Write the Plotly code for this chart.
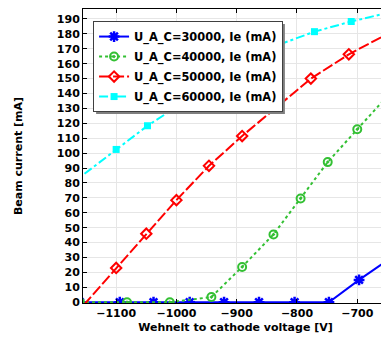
import plotly.graph_objects as go

# ---- data ----
names = ["U_A_C=30000, Ie (mA)", "U_A_C=40000, Ie (mA)",
         "U_A_C=50000, Ie (mA)", "U_A_C=60000, Ie (mA)"]

x_30k = [-1160, -1094, -1038, -978, -921, -863, -804, -747, -697, -645]
y_30k = [0, 0, 0, 0, 0, 0, 0, 0, 15, 29.5]

x_40k = [-1160, -1082, -1011, -942, -891, -839, -794, -749, -700, -645]
y_40k = [0, 0, 0, 3.5, 23.7, 45.5, 69.6, 94, 116, 140.5]

x_50k = [-1200, -1100, -1050, -1000, -946, -891, -777, -714, -645]
y_50k = [-23, 23, 46, 68.5, 91.5, 111.5, 150, 166.3, 181]

x_60k = [-1200, -1100, -1048, -1000, -946, -891, -835, -771, -710, -645]
y_60k = [71.5, 102.5, 118.4, 131, 146, 159, 172, 181.5, 188.3, 194.6]

x_ticks = [-1100, -1000, -900, -800, -700]
y_ticks = list(range(0, 200, 10))

FONT = "DejaVu Sans"

fig = go.Figure()
fig.add_trace(go.Scatter(x=x_30k, y=y_30k, name=names[0], mode="lines+markers",
                         legendgroup="a",
                         line=dict(color="#0000FF", width=2, dash="solid"),
                         marker=dict(symbol="asterisk-open", size=9,
                                     line=dict(color="#0000FF", width=2.5))))
fig.add_trace(go.Scatter(x=x_40k, y=y_40k, name=names[1], mode="lines+markers",
                         legendgroup="b",
                         line=dict(color="#33C033", width=2, dash="dot"),
                         marker=dict(symbol="circle-open-dot", size=8,
                                     line=dict(color="#33C033", width=2))))
fig.add_trace(go.Scatter(x=x_50k, y=y_50k, name=names[2], mode="lines+markers",
                         legendgroup="c",
                         line=dict(color="#FF0000", width=2, dash="11px,3px"),
                         marker=dict(symbol="diamond-open", size=8,
                                     line=dict(color="#FF0000", width=2))))
fig.add_trace(go.Scatter(x=x_60k, y=y_60k, name=names[3], mode="lines+markers",
                         legendgroup="d",
                         line=dict(color="#00FFFF", width=2, dash="dashdot"),
                         marker=dict(symbol="square", size=7, color="#00FFFF")))

# legend drop shadow (paper coordinates)
fig.add_shape(type="rect", xref="paper", yref="paper",
              x0=0.043, x1=0.662, y0=0.643, y1=0.949,
              fillcolor="#7f7f7f", line=dict(width=0), layer="above")

axis_common = dict(showline=True, linecolor="black", linewidth=1, mirror="ticks",
                   ticks="inside", ticklen=4, tickcolor="black",
                   showgrid=True, gridcolor="#e6e6e6", gridwidth=1,
                   zeroline=False,
                   tickfont=dict(family=FONT, size=11, color="black", weight="bold"))

fig.update_layout(
    width=381, height=332,
    margin=dict(l=75, r=1, t=1, b=37),
    paper_bgcolor="white", plot_bgcolor="white",
    font=dict(family=FONT, color="black"),
    xaxis=dict(range=[-1155, -649], tickvals=x_ticks,
               title=dict(text="Wehnelt to cathode voltage [V]", standoff=4,
                          font=dict(family=FONT, size=11, color="black", weight="bold")),
               **axis_common),
    yaxis=dict(range=[-0.5, 196.7], tickvals=y_ticks,
               title=dict(text="Beam current [mA]", standoff=31,
                          font=dict(family=FONT, size=11, color="black", weight="bold")),
               **axis_common),
    legend=dict(x=0.033, y=0.959, xanchor="left", yanchor="top",
                bgcolor="white", bordercolor="#404040", borderwidth=1,
                tracegroupgap=1, traceorder="grouped",
                font=dict(family=FONT, size=11.4, color="black", weight="bold")),
    showlegend=True,
)

fig.write_html("out.html")
